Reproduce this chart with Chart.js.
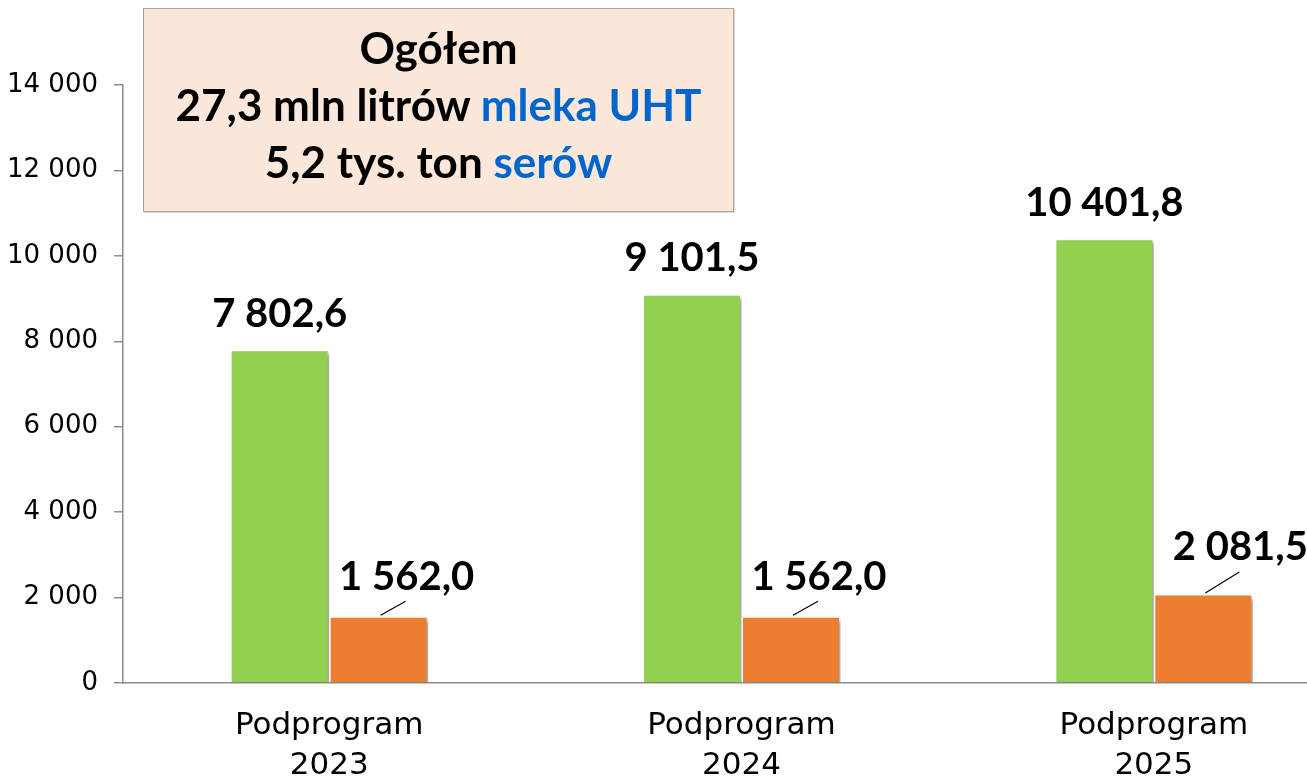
<!DOCTYPE html>
<html>
<head>
    <title>Podprogram</title>
    <style>
        html, body { margin: 0; padding: 0; background: #fff; overflow: hidden; }
        .wrap { position: relative; width: 1307px; height: 778px; overflow: hidden; }
        #summary {
            position: absolute; left: 143px; top: 8px; width: 591px; height: 204px;
            background: #fce8da; border: 1px solid #a6a6a6;
            font-family: "Lato", "DejaVu Sans", sans-serif; font-weight: bold; font-size: 44px;
            text-align: center; line-height: 57px; padding-top: 10px; box-sizing: border-box;
            box-shadow: 1px 1px 1px rgba(0,0,0,0.15);
        }
        #summary .blue { color: #0066cc; }
    </style>
</head>
<body>
<div class="wrap">
    <canvas id="chart" width="1360" height="778"></canvas>
    <div id="summary">
        <div>Ogółem</div>
        <div>27,3 mln litrów <span class="blue">mleka UHT</span></div>
        <div>5,2 tys. ton <span class="blue">serów</span></div>
    </div>
</div>

<script src="https://cdn.jsdelivr.net/npm/chart.js@4.4.0/dist/chart.umd.min.js"></script>
<script>
    const categories = [["Podprogram", "2023"], ["Podprogram", "2024"], ["Podprogram", "2025"]];
    const mleko = [7802.6, 9101.5, 10401.8];
    const sery = [1562.0, 1562.0, 2081.5];
    const yTicks = [0, 2000, 4000, 6000, 8000, 10000, 12000, 14000];

    function fmt(v, dec) {
        let parts = v.toFixed(dec).split(".");
        parts[0] = parts[0].replace(/\B(?=(\d{3})+(?!\d))/g, " ");
        return parts.join(",");
    }

    // shadow under bars
    const barShadow = {
        id: "barShadow",
        beforeDatasetsDraw(chart) {
            const ctx = chart.ctx;
            ctx.save();
            ctx.shadowColor = "rgba(0,0,0,0.35)";
            ctx.shadowOffsetX = 4;
            ctx.shadowOffsetY = 3;
            ctx.shadowBlur = 4;
        },
        afterDatasetsDraw(chart) {
            chart.ctx.restore();
        }
    };

    // value labels (orange ones with leader line)
    const valueLabels = {
        id: "valueLabels",
        afterDraw(chart) {
            const ctx = chart.ctx;
            ctx.save();
            ctx.font = "bold 40px Lato, 'DejaVu Sans', sans-serif";
            ctx.fillStyle = "#000";
            ctx.textAlign = "center";
            ctx.textBaseline = "middle";
            chart.getDatasetMeta(0).data.forEach((bar, i) => {
                ctx.fillText(fmt(mleko[i], 1), bar.x, bar.y - 36);
            });
            chart.getDatasetMeta(1).data.forEach((bar, i) => {
                const last = i === sery.length - 1;
                const dx = bar.x + 2, dy = bar.y - 1;
                const lx = bar.x + (last ? 36 : 27), ly = bar.y - (last ? 22 : 15);
                ctx.strokeStyle = "#000";
                ctx.lineWidth = 1.2;
                ctx.beginPath();
                ctx.moveTo(dx, dy);
                ctx.lineTo(lx, ly);
                ctx.stroke();
                ctx.fillText(fmt(sery[i], 1), bar.x + (last ? 37 : 28), bar.y - (last ? 47 : 39));
            });
            ctx.restore();
        }
    };

    new Chart(document.getElementById("chart"), {
        type: "bar",
        data: {
            labels: categories,
            datasets: [
                {
                    label: "mleko UHT",
                    data: mleko,
                    backgroundColor: "#92d050",
                    borderColor: "#ffffff",
                    borderWidth: 1.5,
                    categoryPercentage: 0.48,
                    barPercentage: 1.0
                },
                {
                    label: "sery",
                    data: sery,
                    backgroundColor: "#ed7d31",
                    borderColor: "#ffffff",
                    borderWidth: 1.5,
                    categoryPercentage: 0.48,
                    barPercentage: 1.0
                }
            ]
        },
        options: {
            responsive: false,
            animation: false,
            layout: { padding: { top: 85, right: 0, bottom: 0, left: 0 } },
            plugins: {
                legend: { display: false },
                tooltip: { enabled: false }
            },
            scales: {
                x: {
                    grid: { display: false, drawTicks: false },
                    border: { display: true, color: "#8c8c8c", width: 1.5 },
                    ticks: {
                        color: "#000",
                        font: { family: "DejaVu Sans", size: 31, lineHeight: 1.3 },
                        padding: 23,
                        maxRotation: 0
                    },
                    afterFit: s => { s.height = 95; }
                },
                y: {
                    min: 0,
                    max: 14000,
                    afterBuildTicks: s => { s.ticks = yTicks.map(v => ({ value: v })); },
                    grid: { drawOnChartArea: false, drawTicks: true, tickLength: 9, color: "#8c8c8c", lineWidth: 1.5 },
                    border: { display: true, color: "#8c8c8c", width: 1.5 },
                    ticks: {
                        color: "#000",
                        font: { family: "DejaVu Sans", size: 26 },
                        padding: 16,
                        callback: v => fmt(v, 0)
                    },
                    afterFit: s => { s.width = 123; }
                }
            }
        },
        plugins: [barShadow, valueLabels]
    });
</script>
</body>
</html>
